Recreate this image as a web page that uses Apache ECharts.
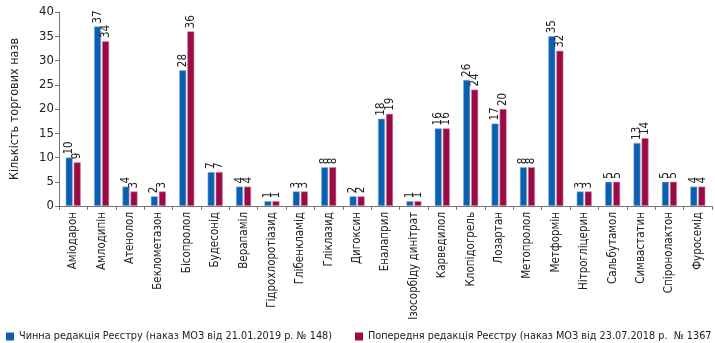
<!DOCTYPE html>
<html><head><meta charset="utf-8">
<script src="https://cdn.jsdelivr.net/npm/echarts@6/dist/echarts.min.js"></script>
<style>html,body{margin:0;padding:0;background:#fff}#c{width:715px;height:343px}</style>
</head><body><div id="c"></div>
<script>
const categories = ['Аміодарон','Амлодипін','Атенолол','Беклометазон','Бісопролол','Будесонід','Верапаміл','Гідрохлоротіазид','Глібенкламід','Гліклазид','Дигоксин','Еналаприл','Ізосорбіду динітрат','Карведилол','Клопідогрель','Лозартан','Метопролол','Метформін','Нітрогліцерин','Сальбутамол','Симвастатин','Спіронолактон','Фуросемід'];
const current = [10,37,4,2,28,7,4,1,3,8,2,18,1,16,26,17,8,35,3,5,13,5,4];
const previous = [9,34,3,3,36,7,4,1,3,8,2,19,1,16,24,20,8,32,3,5,14,5,4];
const seriesNames = ['Чинна редакція Реєстру (наказ МОЗ від 21.01.2019 р. № 148)','Попередня редакція Реєстру (наказ МОЗ від 23.07.2018 р.  № 1367'];
const yTicks = {min:0,max:40,interval:5};

const FF = "'DejaVu Sans Condensed','Liberation Sans Narrow',sans-serif";
const chart = echarts.init(document.getElementById('c'));
const lbl = {show:true,position:'top',rotate:90,align:'left',verticalAlign:'middle',distance:3,fontFamily:FF,fontSize:11.5,color:'#222'};
const legendBase = {top:326,itemWidth:8,itemHeight:8,icon:'rect',itemGap:5,
    itemStyle:{borderWidth:0},
    textStyle:{fontFamily:FF,fontSize:10.8,color:'#222',padding:[0,0,0,0]}};
chart.setOption({
  animation:false,
  textStyle:{fontFamily:FF},
  grid:{left:53,right:3,top:12,bottom:137},
  legend:[Object.assign({left:1,data:[seriesNames[0]]},legendBase),
          Object.assign({left:350,data:[seriesNames[1]]},legendBase)],
  xAxis:{type:'category',data:categories,
    axisLine:{lineStyle:{color:'#777'}},
    axisTick:{show:true,length:4,lineStyle:{color:'#777'}},
    axisLabel:{rotate:90,interval:0,fontFamily:FF,fontSize:11.5,color:'#222',margin:6}},
  yAxis:{type:'value',min:yTicks.min,max:yTicks.max,interval:yTicks.interval,
    name:'Кількість торгових назв',nameLocation:'middle',nameGap:38,nameRotate:90,
    nameTextStyle:{fontFamily:FF,fontSize:12.5,color:'#222'},
    splitLine:{show:false},
    axisLine:{show:true,lineStyle:{color:'#777'}},
    axisTick:{show:true,length:4,lineStyle:{color:'#777'}},
    axisLabel:{fontFamily:FF,fontSize:13,color:'#222',margin:5}},
  series:[
    {name:seriesNames[0],type:'bar',data:current,barWidth:7,barGap:'15%',
     itemStyle:{color:'#0a5fb0',borderColor:'#8fb0d8',borderWidth:0.6},label:lbl},
    {name:seriesNames[1],type:'bar',data:previous,barWidth:7,
     itemStyle:{color:'#9a0a45',borderColor:'#d08aa8',borderWidth:0.6},label:lbl}
  ]
});
</script></body></html>
